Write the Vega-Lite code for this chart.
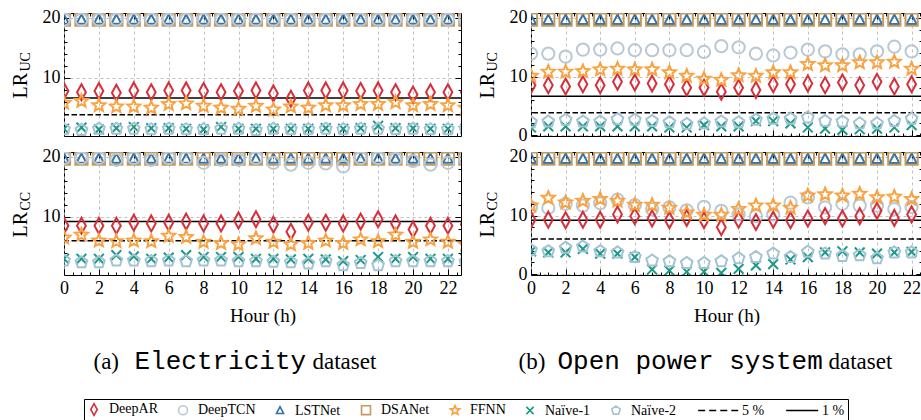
{
"$schema": "https://vega.github.io/schema/vega-lite/v6.json",
"padding": {"left": 9, "top": 8, "right": 1, "bottom": 2},
"config": {
 "font": "Liberation Serif",
 "view": {"stroke": "black", "strokeWidth": 1},
 "point": {"opacity": 1},
 "axis": {"labelFont": "Liberation Serif", "titleFont": "Liberation Serif", "labelColor": "black", "titleColor": "black", "titleFontWeight": "normal", "tickColor": "black", "tickWidth": 1},
 "legend": {"orient": "bottom", "direction": "horizontal", "columns": 9, "labelFont": "Liberation Serif", "labelFontSize": 14, "labelColor": "black", "symbolSize": 80, "symbolStrokeWidth": 1.6, "symbolOpacity": 1, "strokeColor": "black", "padding": 3, "columnPadding": 17, "labelOffset": 8, "offset": 25, "layout": {"bottom": {"anchor": "middle"}}}
},
"datasets": {
 "euc_t": [{"lvl": "5 %", "v": 3.84}, {"lvl": "1 %", "v": 6.63}],
 "ecc_t": [{"lvl": "5 %", "v": 5.99}, {"lvl": "1 %", "v": 9.21}],
 "ouc_t": [{"lvl": "5 %", "v": 3.84}, {"lvl": "1 %", "v": 6.63}],
 "occ_t": [{"lvl": "5 %", "v": 5.99}, {"lvl": "1 %", "v": 9.21}],
 "euc": [
  {"s":"DeepAR","h":0,"v":7.8},{"s":"DeepAR","h":1,"v":7.6},{"s":"DeepAR","h":2,"v":7.8},{"s":"DeepAR","h":3,"v":7.5},{"s":"DeepAR","h":4,"v":7.9},{"s":"DeepAR","h":5,"v":7.6},{"s":"DeepAR","h":6,"v":7.9},{"s":"DeepAR","h":7,"v":7.9},{"s":"DeepAR","h":8,"v":7.8},{"s":"DeepAR","h":9,"v":7.6},{"s":"DeepAR","h":10,"v":7.8},{"s":"DeepAR","h":11,"v":7.9},{"s":"DeepAR","h":12,"v":7.4},{"s":"DeepAR","h":13,"v":6.5},{"s":"DeepAR","h":14,"v":7.9},{"s":"DeepAR","h":15,"v":7.9},{"s":"DeepAR","h":16,"v":7.9},{"s":"DeepAR","h":17,"v":7.8},{"s":"DeepAR","h":18,"v":7.9},{"s":"DeepAR","h":19,"v":7.6},{"s":"DeepAR","h":20,"v":7.2},{"s":"DeepAR","h":21,"v":7.6},{"s":"DeepAR","h":22,"v":7.6},{"s":"DeepAR","h":23,"v":7.6},
  {"s":"DeepTCN","h":0,"v":19.7},{"s":"DeepTCN","h":1,"v":19.7},{"s":"DeepTCN","h":2,"v":19.7},{"s":"DeepTCN","h":3,"v":19.7},{"s":"DeepTCN","h":4,"v":19.7},{"s":"DeepTCN","h":5,"v":19.7},{"s":"DeepTCN","h":6,"v":19.7},{"s":"DeepTCN","h":7,"v":19.7},{"s":"DeepTCN","h":8,"v":19.7},{"s":"DeepTCN","h":9,"v":19.7},{"s":"DeepTCN","h":10,"v":19.7},{"s":"DeepTCN","h":11,"v":19.7},{"s":"DeepTCN","h":12,"v":19.7},{"s":"DeepTCN","h":13,"v":19.7},{"s":"DeepTCN","h":14,"v":19.7},{"s":"DeepTCN","h":15,"v":19.7},{"s":"DeepTCN","h":16,"v":19.7},{"s":"DeepTCN","h":17,"v":19.7},{"s":"DeepTCN","h":18,"v":19.7},{"s":"DeepTCN","h":19,"v":19.7},{"s":"DeepTCN","h":20,"v":19.7},{"s":"DeepTCN","h":21,"v":19.7},{"s":"DeepTCN","h":22,"v":19.7},{"s":"DeepTCN","h":23,"v":19.7},
  {"s":"LSTNet","h":0,"v":19.7},{"s":"LSTNet","h":1,"v":19.7},{"s":"LSTNet","h":2,"v":19.7},{"s":"LSTNet","h":3,"v":19.7},{"s":"LSTNet","h":4,"v":19.7},{"s":"LSTNet","h":5,"v":19.7},{"s":"LSTNet","h":6,"v":19.7},{"s":"LSTNet","h":7,"v":19.7},{"s":"LSTNet","h":8,"v":19.7},{"s":"LSTNet","h":9,"v":19.7},{"s":"LSTNet","h":10,"v":19.7},{"s":"LSTNet","h":11,"v":19.7},{"s":"LSTNet","h":12,"v":19.7},{"s":"LSTNet","h":13,"v":19.7},{"s":"LSTNet","h":14,"v":19.7},{"s":"LSTNet","h":15,"v":19.7},{"s":"LSTNet","h":16,"v":19.7},{"s":"LSTNet","h":17,"v":19.7},{"s":"LSTNet","h":18,"v":19.7},{"s":"LSTNet","h":19,"v":19.7},{"s":"LSTNet","h":20,"v":19.7},{"s":"LSTNet","h":21,"v":19.7},{"s":"LSTNet","h":22,"v":19.7},{"s":"LSTNet","h":23,"v":19.7},
  {"s":"DSANet","h":0,"v":19.7},{"s":"DSANet","h":1,"v":19.7},{"s":"DSANet","h":2,"v":19.7},{"s":"DSANet","h":3,"v":19.7},{"s":"DSANet","h":4,"v":19.7},{"s":"DSANet","h":5,"v":19.7},{"s":"DSANet","h":6,"v":19.7},{"s":"DSANet","h":7,"v":19.7},{"s":"DSANet","h":8,"v":19.7},{"s":"DSANet","h":9,"v":19.7},{"s":"DSANet","h":10,"v":19.7},{"s":"DSANet","h":11,"v":19.7},{"s":"DSANet","h":12,"v":19.7},{"s":"DSANet","h":13,"v":19.7},{"s":"DSANet","h":14,"v":19.7},{"s":"DSANet","h":15,"v":19.7},{"s":"DSANet","h":16,"v":19.7},{"s":"DSANet","h":17,"v":19.7},{"s":"DSANet","h":18,"v":19.7},{"s":"DSANet","h":19,"v":19.7},{"s":"DSANet","h":20,"v":19.7},{"s":"DSANet","h":21,"v":19.7},{"s":"DSANet","h":22,"v":19.7},{"s":"DSANet","h":23,"v":19.7},
  {"s":"FFNN","h":0,"v":5.8},{"s":"FFNN","h":1,"v":6.1},{"s":"FFNN","h":2,"v":5.4},{"s":"FFNN","h":3,"v":5.2},{"s":"FFNN","h":4,"v":5.2},{"s":"FFNN","h":5,"v":5.0},{"s":"FFNN","h":6,"v":5.6},{"s":"FFNN","h":7,"v":5.7},{"s":"FFNN","h":8,"v":5.3},{"s":"FFNN","h":9,"v":5.0},{"s":"FFNN","h":10,"v":4.8},{"s":"FFNN","h":11,"v":5.3},{"s":"FFNN","h":12,"v":4.7},{"s":"FFNN","h":13,"v":5.2},{"s":"FFNN","h":14,"v":5.0},{"s":"FFNN","h":15,"v":5.4},{"s":"FFNN","h":16,"v":5.4},{"s":"FFNN","h":17,"v":5.6},{"s":"FFNN","h":18,"v":5.6},{"s":"FFNN","h":19,"v":5.9},{"s":"FFNN","h":20,"v":5.4},{"s":"FFNN","h":21,"v":5.6},{"s":"FFNN","h":22,"v":5.4},{"s":"FFNN","h":23,"v":5.0},
  {"s":"Naïve-1","h":0,"v":1.5},{"s":"Naïve-1","h":1,"v":1.7},{"s":"Naïve-1","h":2,"v":1.4},{"s":"Naïve-1","h":3,"v":1.6},{"s":"Naïve-1","h":4,"v":1.8},{"s":"Naïve-1","h":5,"v":1.6},{"s":"Naïve-1","h":6,"v":1.6},{"s":"Naïve-1","h":7,"v":1.5},{"s":"Naïve-1","h":8,"v":1.4},{"s":"Naïve-1","h":9,"v":1.8},{"s":"Naïve-1","h":10,"v":1.5},{"s":"Naïve-1","h":11,"v":1.5},{"s":"Naïve-1","h":12,"v":1.5},{"s":"Naïve-1","h":13,"v":1.5},{"s":"Naïve-1","h":14,"v":1.5},{"s":"Naïve-1","h":15,"v":1.6},{"s":"Naïve-1","h":16,"v":1.5},{"s":"Naïve-1","h":17,"v":1.6},{"s":"Naïve-1","h":18,"v":2.0},{"s":"Naïve-1","h":19,"v":1.6},{"s":"Naïve-1","h":20,"v":1.6},{"s":"Naïve-1","h":21,"v":1.5},{"s":"Naïve-1","h":22,"v":1.5},{"s":"Naïve-1","h":23,"v":1.5},
  {"s":"Naïve-2","h":0,"v":1.4},{"s":"Naïve-2","h":1,"v":1.3},{"s":"Naïve-2","h":2,"v":1.5},{"s":"Naïve-2","h":3,"v":1.5},{"s":"Naïve-2","h":4,"v":1.5},{"s":"Naïve-2","h":5,"v":1.4},{"s":"Naïve-2","h":6,"v":1.5},{"s":"Naïve-2","h":7,"v":1.4},{"s":"Naïve-2","h":8,"v":1.4},{"s":"Naïve-2","h":9,"v":1.5},{"s":"Naïve-2","h":10,"v":1.5},{"s":"Naïve-2","h":11,"v":1.3},{"s":"Naïve-2","h":12,"v":1.5},{"s":"Naïve-2","h":13,"v":1.4},{"s":"Naïve-2","h":14,"v":1.4},{"s":"Naïve-2","h":15,"v":1.5},{"s":"Naïve-2","h":16,"v":1.4},{"s":"Naïve-2","h":17,"v":1.5},{"s":"Naïve-2","h":18,"v":1.5},{"s":"Naïve-2","h":19,"v":1.4},{"s":"Naïve-2","h":20,"v":1.5},{"s":"Naïve-2","h":21,"v":1.4},{"s":"Naïve-2","h":22,"v":1.4},{"s":"Naïve-2","h":23,"v":1.5}
 ],
 "ecc": [
  {"s":"DeepAR","h":0,"v":8.5},{"s":"DeepAR","h":1,"v":8.5},{"s":"DeepAR","h":2,"v":8.5},{"s":"DeepAR","h":3,"v":8.5},{"s":"DeepAR","h":4,"v":9.0},{"s":"DeepAR","h":5,"v":8.9},{"s":"DeepAR","h":6,"v":9.0},{"s":"DeepAR","h":7,"v":9.2},{"s":"DeepAR","h":8,"v":8.9},{"s":"DeepAR","h":9,"v":8.9},{"s":"DeepAR","h":10,"v":9.4},{"s":"DeepAR","h":11,"v":9.6},{"s":"DeepAR","h":12,"v":8.7},{"s":"DeepAR","h":13,"v":7.5},{"s":"DeepAR","h":14,"v":9.0},{"s":"DeepAR","h":15,"v":9.0},{"s":"DeepAR","h":16,"v":8.9},{"s":"DeepAR","h":17,"v":9.2},{"s":"DeepAR","h":18,"v":9.6},{"s":"DeepAR","h":19,"v":8.9},{"s":"DeepAR","h":20,"v":7.9},{"s":"DeepAR","h":21,"v":8.5},{"s":"DeepAR","h":22,"v":8.5},{"s":"DeepAR","h":23,"v":8.7},
  {"s":"DeepTCN","h":0,"v":19.8},{"s":"DeepTCN","h":1,"v":19.8},{"s":"DeepTCN","h":2,"v":19.8},{"s":"DeepTCN","h":3,"v":19.5},{"s":"DeepTCN","h":4,"v":19.8},{"s":"DeepTCN","h":5,"v":19.5},{"s":"DeepTCN","h":6,"v":19.8},{"s":"DeepTCN","h":7,"v":19.8},{"s":"DeepTCN","h":8,"v":19.0},{"s":"DeepTCN","h":9,"v":19.5},{"s":"DeepTCN","h":10,"v":19.5},{"s":"DeepTCN","h":11,"v":19.8},{"s":"DeepTCN","h":12,"v":19.0},{"s":"DeepTCN","h":13,"v":18.7},{"s":"DeepTCN","h":14,"v":19.0},{"s":"DeepTCN","h":15,"v":18.9},{"s":"DeepTCN","h":16,"v":18.4},{"s":"DeepTCN","h":17,"v":19.8},{"s":"DeepTCN","h":18,"v":19.8},{"s":"DeepTCN","h":19,"v":19.6},{"s":"DeepTCN","h":20,"v":19.3},{"s":"DeepTCN","h":21,"v":18.7},{"s":"DeepTCN","h":22,"v":19.0},{"s":"DeepTCN","h":23,"v":19.6},
  {"s":"LSTNet","h":0,"v":19.7},{"s":"LSTNet","h":1,"v":19.7},{"s":"LSTNet","h":2,"v":19.7},{"s":"LSTNet","h":3,"v":19.7},{"s":"LSTNet","h":4,"v":19.7},{"s":"LSTNet","h":5,"v":19.7},{"s":"LSTNet","h":6,"v":19.7},{"s":"LSTNet","h":7,"v":19.7},{"s":"LSTNet","h":8,"v":19.7},{"s":"LSTNet","h":9,"v":19.7},{"s":"LSTNet","h":10,"v":19.7},{"s":"LSTNet","h":11,"v":19.7},{"s":"LSTNet","h":12,"v":19.7},{"s":"LSTNet","h":13,"v":19.7},{"s":"LSTNet","h":14,"v":19.7},{"s":"LSTNet","h":15,"v":19.7},{"s":"LSTNet","h":16,"v":19.7},{"s":"LSTNet","h":17,"v":19.7},{"s":"LSTNet","h":18,"v":19.7},{"s":"LSTNet","h":19,"v":19.7},{"s":"LSTNet","h":20,"v":19.7},{"s":"LSTNet","h":21,"v":19.7},{"s":"LSTNet","h":22,"v":19.7},{"s":"LSTNet","h":23,"v":19.7},
  {"s":"DSANet","h":0,"v":19.7},{"s":"DSANet","h":1,"v":19.7},{"s":"DSANet","h":2,"v":19.7},{"s":"DSANet","h":3,"v":19.7},{"s":"DSANet","h":4,"v":19.7},{"s":"DSANet","h":5,"v":19.7},{"s":"DSANet","h":6,"v":19.7},{"s":"DSANet","h":7,"v":19.7},{"s":"DSANet","h":8,"v":19.7},{"s":"DSANet","h":9,"v":19.7},{"s":"DSANet","h":10,"v":19.7},{"s":"DSANet","h":11,"v":19.7},{"s":"DSANet","h":12,"v":19.7},{"s":"DSANet","h":13,"v":19.7},{"s":"DSANet","h":14,"v":19.7},{"s":"DSANet","h":15,"v":19.7},{"s":"DSANet","h":16,"v":19.7},{"s":"DSANet","h":17,"v":19.7},{"s":"DSANet","h":18,"v":19.7},{"s":"DSANet","h":19,"v":19.7},{"s":"DSANet","h":20,"v":19.7},{"s":"DSANet","h":21,"v":19.7},{"s":"DSANet","h":22,"v":19.7},{"s":"DSANet","h":23,"v":19.7},
  {"s":"FFNN","h":0,"v":6.5},{"s":"FFNN","h":1,"v":7.0},{"s":"FFNN","h":2,"v":6.0},{"s":"FFNN","h":3,"v":5.9},{"s":"FFNN","h":4,"v":6.0},{"s":"FFNN","h":5,"v":5.9},{"s":"FFNN","h":6,"v":6.8},{"s":"FFNN","h":7,"v":6.6},{"s":"FFNN","h":8,"v":5.8},{"s":"FFNN","h":9,"v":5.6},{"s":"FFNN","h":10,"v":5.4},{"s":"FFNN","h":11,"v":6.4},{"s":"FFNN","h":12,"v":5.8},{"s":"FFNN","h":13,"v":5.4},{"s":"FFNN","h":14,"v":5.6},{"s":"FFNN","h":15,"v":6.0},{"s":"FFNN","h":16,"v":5.6},{"s":"FFNN","h":17,"v":6.2},{"s":"FFNN","h":18,"v":5.9},{"s":"FFNN","h":19,"v":7.0},{"s":"FFNN","h":20,"v":5.8},{"s":"FFNN","h":21,"v":6.2},{"s":"FFNN","h":22,"v":5.8},{"s":"FFNN","h":23,"v":5.4},
  {"s":"Naïve-1","h":0,"v":3.0},{"s":"Naïve-1","h":1,"v":3.0},{"s":"Naïve-1","h":2,"v":3.0},{"s":"Naïve-1","h":3,"v":3.6},{"s":"Naïve-1","h":4,"v":3.4},{"s":"Naïve-1","h":5,"v":3.0},{"s":"Naïve-1","h":6,"v":3.2},{"s":"Naïve-1","h":7,"v":3.6},{"s":"Naïve-1","h":8,"v":3.3},{"s":"Naïve-1","h":9,"v":3.3},{"s":"Naïve-1","h":10,"v":3.3},{"s":"Naïve-1","h":11,"v":3.0},{"s":"Naïve-1","h":12,"v":3.0},{"s":"Naïve-1","h":13,"v":2.9},{"s":"Naïve-1","h":14,"v":3.0},{"s":"Naïve-1","h":15,"v":2.9},{"s":"Naïve-1","h":16,"v":2.6},{"s":"Naïve-1","h":17,"v":2.8},{"s":"Naïve-1","h":18,"v":3.3},{"s":"Naïve-1","h":19,"v":3.0},{"s":"Naïve-1","h":20,"v":3.3},{"s":"Naïve-1","h":21,"v":3.0},{"s":"Naïve-1","h":22,"v":3.0},{"s":"Naïve-1","h":23,"v":3.0},
  {"s":"Naïve-2","h":0,"v":2.7},{"s":"Naïve-2","h":1,"v":2.4},{"s":"Naïve-2","h":2,"v":2.4},{"s":"Naïve-2","h":3,"v":2.7},{"s":"Naïve-2","h":4,"v":2.7},{"s":"Naïve-2","h":5,"v":2.6},{"s":"Naïve-2","h":6,"v":2.7},{"s":"Naïve-2","h":7,"v":2.6},{"s":"Naïve-2","h":8,"v":2.7},{"s":"Naïve-2","h":9,"v":2.7},{"s":"Naïve-2","h":10,"v":2.6},{"s":"Naïve-2","h":11,"v":2.6},{"s":"Naïve-2","h":12,"v":2.5},{"s":"Naïve-2","h":13,"v":2.4},{"s":"Naïve-2","h":14,"v":2.2},{"s":"Naïve-2","h":15,"v":2.6},{"s":"Naïve-2","h":16,"v":1.9},{"s":"Naïve-2","h":17,"v":2.3},{"s":"Naïve-2","h":18,"v":1.9},{"s":"Naïve-2","h":19,"v":2.6},{"s":"Naïve-2","h":20,"v":2.6},{"s":"Naïve-2","h":21,"v":2.6},{"s":"Naïve-2","h":22,"v":2.6},{"s":"Naïve-2","h":23,"v":2.5}
 ],
 "ouc": [
  {"s":"DeepAR","h":0,"v":8.5},{"s":"DeepAR","h":1,"v":8.5},{"s":"DeepAR","h":2,"v":8.3},{"s":"DeepAR","h":3,"v":8.7},{"s":"DeepAR","h":4,"v":8.5},{"s":"DeepAR","h":5,"v":9.1},{"s":"DeepAR","h":6,"v":9.0},{"s":"DeepAR","h":7,"v":8.8},{"s":"DeepAR","h":8,"v":8.7},{"s":"DeepAR","h":9,"v":8.1},{"s":"DeepAR","h":10,"v":8.1},{"s":"DeepAR","h":11,"v":7.4},{"s":"DeepAR","h":12,"v":8.1},{"s":"DeepAR","h":13,"v":7.7},{"s":"DeepAR","h":14,"v":8.7},{"s":"DeepAR","h":15,"v":8.7},{"s":"DeepAR","h":16,"v":8.8},{"s":"DeepAR","h":17,"v":8.5},{"s":"DeepAR","h":18,"v":9.0},{"s":"DeepAR","h":19,"v":8.5},{"s":"DeepAR","h":20,"v":9.1},{"s":"DeepAR","h":21,"v":8.3},{"s":"DeepAR","h":22,"v":8.7},{"s":"DeepAR","h":23,"v":9.2},
  {"s":"DeepTCN","h":0,"v":13.9},{"s":"DeepTCN","h":1,"v":13.9},{"s":"DeepTCN","h":2,"v":13.4},{"s":"DeepTCN","h":3,"v":14.6},{"s":"DeepTCN","h":4,"v":14.6},{"s":"DeepTCN","h":5,"v":14.8},{"s":"DeepTCN","h":6,"v":14.5},{"s":"DeepTCN","h":7,"v":14.5},{"s":"DeepTCN","h":8,"v":14.5},{"s":"DeepTCN","h":9,"v":14.5},{"s":"DeepTCN","h":10,"v":14.2},{"s":"DeepTCN","h":11,"v":15.2},{"s":"DeepTCN","h":12,"v":15.0},{"s":"DeepTCN","h":13,"v":13.9},{"s":"DeepTCN","h":14,"v":13.6},{"s":"DeepTCN","h":15,"v":14.1},{"s":"DeepTCN","h":16,"v":14.6},{"s":"DeepTCN","h":17,"v":14.3},{"s":"DeepTCN","h":18,"v":13.8},{"s":"DeepTCN","h":19,"v":13.8},{"s":"DeepTCN","h":20,"v":14.3},{"s":"DeepTCN","h":21,"v":15.1},{"s":"DeepTCN","h":22,"v":14.3},{"s":"DeepTCN","h":23,"v":13.9},
  {"s":"LSTNet","h":0,"v":19.7},{"s":"LSTNet","h":1,"v":19.7},{"s":"LSTNet","h":2,"v":19.7},{"s":"LSTNet","h":3,"v":19.7},{"s":"LSTNet","h":4,"v":19.7},{"s":"LSTNet","h":5,"v":19.7},{"s":"LSTNet","h":6,"v":19.7},{"s":"LSTNet","h":7,"v":19.7},{"s":"LSTNet","h":8,"v":19.7},{"s":"LSTNet","h":9,"v":19.7},{"s":"LSTNet","h":10,"v":19.7},{"s":"LSTNet","h":11,"v":19.7},{"s":"LSTNet","h":12,"v":19.7},{"s":"LSTNet","h":13,"v":19.7},{"s":"LSTNet","h":14,"v":19.7},{"s":"LSTNet","h":15,"v":19.7},{"s":"LSTNet","h":16,"v":19.7},{"s":"LSTNet","h":17,"v":19.7},{"s":"LSTNet","h":18,"v":19.7},{"s":"LSTNet","h":19,"v":19.7},{"s":"LSTNet","h":20,"v":19.7},{"s":"LSTNet","h":21,"v":19.7},{"s":"LSTNet","h":22,"v":19.7},{"s":"LSTNet","h":23,"v":19.7},
  {"s":"DSANet","h":0,"v":19.7},{"s":"DSANet","h":1,"v":19.7},{"s":"DSANet","h":2,"v":19.7},{"s":"DSANet","h":3,"v":19.7},{"s":"DSANet","h":4,"v":19.7},{"s":"DSANet","h":5,"v":19.7},{"s":"DSANet","h":6,"v":19.7},{"s":"DSANet","h":7,"v":19.7},{"s":"DSANet","h":8,"v":19.7},{"s":"DSANet","h":9,"v":19.7},{"s":"DSANet","h":10,"v":19.7},{"s":"DSANet","h":11,"v":19.7},{"s":"DSANet","h":12,"v":19.7},{"s":"DSANet","h":13,"v":19.7},{"s":"DSANet","h":14,"v":19.7},{"s":"DSANet","h":15,"v":19.7},{"s":"DSANet","h":16,"v":19.7},{"s":"DSANet","h":17,"v":19.7},{"s":"DSANet","h":18,"v":19.7},{"s":"DSANet","h":19,"v":19.7},{"s":"DSANet","h":20,"v":19.7},{"s":"DSANet","h":21,"v":19.7},{"s":"DSANet","h":22,"v":19.7},{"s":"DSANet","h":23,"v":19.7},
  {"s":"FFNN","h":0,"v":10.1},{"s":"FFNN","h":1,"v":10.8},{"s":"FFNN","h":2,"v":10.8},{"s":"FFNN","h":3,"v":10.9},{"s":"FFNN","h":4,"v":11.2},{"s":"FFNN","h":5,"v":11.3},{"s":"FFNN","h":6,"v":11.2},{"s":"FFNN","h":7,"v":11.2},{"s":"FFNN","h":8,"v":10.7},{"s":"FFNN","h":9,"v":10.1},{"s":"FFNN","h":10,"v":9.6},{"s":"FFNN","h":11,"v":9.4},{"s":"FFNN","h":12,"v":10.2},{"s":"FFNN","h":13,"v":10.1},{"s":"FFNN","h":14,"v":10.7},{"s":"FFNN","h":15,"v":10.7},{"s":"FFNN","h":16,"v":12.1},{"s":"FFNN","h":17,"v":11.9},{"s":"FFNN","h":18,"v":11.9},{"s":"FFNN","h":19,"v":12.4},{"s":"FFNN","h":20,"v":12.4},{"s":"FFNN","h":21,"v":12.5},{"s":"FFNN","h":22,"v":11.3},{"s":"FFNN","h":23,"v":11.9},
  {"s":"Naïve-1","h":0,"v":1.3},{"s":"Naïve-1","h":1,"v":1.5},{"s":"Naïve-1","h":2,"v":1.5},{"s":"Naïve-1","h":3,"v":1.5},{"s":"Naïve-1","h":4,"v":1.5},{"s":"Naïve-1","h":5,"v":1.5},{"s":"Naïve-1","h":6,"v":1.5},{"s":"Naïve-1","h":7,"v":1.5},{"s":"Naïve-1","h":8,"v":1.3},{"s":"Naïve-1","h":9,"v":1.3},{"s":"Naïve-1","h":10,"v":1.7},{"s":"Naïve-1","h":11,"v":1.5},{"s":"Naïve-1","h":12,"v":1.5},{"s":"Naïve-1","h":13,"v":2.4},{"s":"Naïve-1","h":14,"v":2.4},{"s":"Naïve-1","h":15,"v":2.0},{"s":"Naïve-1","h":16,"v":1.3},{"s":"Naïve-1","h":17,"v":1.1},{"s":"Naïve-1","h":18,"v":0.9},{"s":"Naïve-1","h":19,"v":1.0},{"s":"Naïve-1","h":20,"v":1.1},{"s":"Naïve-1","h":21,"v":1.3},{"s":"Naïve-1","h":22,"v":1.7},{"s":"Naïve-1","h":23,"v":1.1},
  {"s":"Naïve-2","h":0,"v":2.2},{"s":"Naïve-2","h":1,"v":2.3},{"s":"Naïve-2","h":2,"v":2.6},{"s":"Naïve-2","h":3,"v":2.3},{"s":"Naïve-2","h":4,"v":2.3},{"s":"Naïve-2","h":5,"v":2.7},{"s":"Naïve-2","h":6,"v":2.6},{"s":"Naïve-2","h":7,"v":2.4},{"s":"Naïve-2","h":8,"v":2.2},{"s":"Naïve-2","h":9,"v":1.9},{"s":"Naïve-2","h":10,"v":2.0},{"s":"Naïve-2","h":11,"v":2.3},{"s":"Naïve-2","h":12,"v":2.2},{"s":"Naïve-2","h":13,"v":2.6},{"s":"Naïve-2","h":14,"v":2.8},{"s":"Naïve-2","h":15,"v":2.8},{"s":"Naïve-2","h":16,"v":3.0},{"s":"Naïve-2","h":17,"v":2.4},{"s":"Naïve-2","h":18,"v":2.3},{"s":"Naïve-2","h":19,"v":2.0},{"s":"Naïve-2","h":20,"v":2.0},{"s":"Naïve-2","h":21,"v":2.4},{"s":"Naïve-2","h":22,"v":2.8},{"s":"Naïve-2","h":23,"v":2.4}
 ],
 "occ": [
  {"s":"DeepAR","h":0,"v":9.3},{"s":"DeepAR","h":1,"v":9.3},{"s":"DeepAR","h":2,"v":9.2},{"s":"DeepAR","h":3,"v":9.3},{"s":"DeepAR","h":4,"v":9.3},{"s":"DeepAR","h":5,"v":10.2},{"s":"DeepAR","h":6,"v":9.9},{"s":"DeepAR","h":7,"v":9.5},{"s":"DeepAR","h":8,"v":9.2},{"s":"DeepAR","h":9,"v":9.6},{"s":"DeepAR","h":10,"v":9.2},{"s":"DeepAR","h":11,"v":8.0},{"s":"DeepAR","h":12,"v":9.3},{"s":"DeepAR","h":13,"v":8.9},{"s":"DeepAR","h":14,"v":9.3},{"s":"DeepAR","h":15,"v":9.2},{"s":"DeepAR","h":16,"v":9.5},{"s":"DeepAR","h":17,"v":9.9},{"s":"DeepAR","h":18,"v":9.5},{"s":"DeepAR","h":19,"v":9.9},{"s":"DeepAR","h":20,"v":10.8},{"s":"DeepAR","h":21,"v":9.6},{"s":"DeepAR","h":22,"v":10.2},{"s":"DeepAR","h":23,"v":10.2},
  {"s":"DeepTCN","h":0,"v":11.4},{"s":"DeepTCN","h":1,"v":11.3},{"s":"DeepTCN","h":2,"v":12.0},{"s":"DeepTCN","h":3,"v":11.7},{"s":"DeepTCN","h":4,"v":12.1},{"s":"DeepTCN","h":5,"v":12.7},{"s":"DeepTCN","h":6,"v":11.8},{"s":"DeepTCN","h":7,"v":11.1},{"s":"DeepTCN","h":8,"v":11.4},{"s":"DeepTCN","h":9,"v":10.9},{"s":"DeepTCN","h":10,"v":11.5},{"s":"DeepTCN","h":11,"v":10.8},{"s":"DeepTCN","h":12,"v":10.2},{"s":"DeepTCN","h":13,"v":9.9},{"s":"DeepTCN","h":14,"v":10.2},{"s":"DeepTCN","h":15,"v":12.2},{"s":"DeepTCN","h":16,"v":13.1},{"s":"DeepTCN","h":17,"v":11.4},{"s":"DeepTCN","h":18,"v":12.0},{"s":"DeepTCN","h":19,"v":11.7},{"s":"DeepTCN","h":20,"v":11.7},{"s":"DeepTCN","h":21,"v":11.1},{"s":"DeepTCN","h":22,"v":11.5},{"s":"DeepTCN","h":23,"v":11.6},
  {"s":"LSTNet","h":0,"v":19.7},{"s":"LSTNet","h":1,"v":19.7},{"s":"LSTNet","h":2,"v":19.7},{"s":"LSTNet","h":3,"v":19.7},{"s":"LSTNet","h":4,"v":19.7},{"s":"LSTNet","h":5,"v":19.7},{"s":"LSTNet","h":6,"v":19.7},{"s":"LSTNet","h":7,"v":19.7},{"s":"LSTNet","h":8,"v":19.7},{"s":"LSTNet","h":9,"v":19.7},{"s":"LSTNet","h":10,"v":19.7},{"s":"LSTNet","h":11,"v":19.7},{"s":"LSTNet","h":12,"v":19.7},{"s":"LSTNet","h":13,"v":19.7},{"s":"LSTNet","h":14,"v":19.7},{"s":"LSTNet","h":15,"v":19.7},{"s":"LSTNet","h":16,"v":19.7},{"s":"LSTNet","h":17,"v":19.7},{"s":"LSTNet","h":18,"v":19.7},{"s":"LSTNet","h":19,"v":19.7},{"s":"LSTNet","h":20,"v":19.7},{"s":"LSTNet","h":21,"v":19.7},{"s":"LSTNet","h":22,"v":19.7},{"s":"LSTNet","h":23,"v":19.7},
  {"s":"DSANet","h":0,"v":19.7},{"s":"DSANet","h":1,"v":19.7},{"s":"DSANet","h":2,"v":19.7},{"s":"DSANet","h":3,"v":19.7},{"s":"DSANet","h":4,"v":19.7},{"s":"DSANet","h":5,"v":19.7},{"s":"DSANet","h":6,"v":19.7},{"s":"DSANet","h":7,"v":19.7},{"s":"DSANet","h":8,"v":19.7},{"s":"DSANet","h":9,"v":19.7},{"s":"DSANet","h":10,"v":19.7},{"s":"DSANet","h":11,"v":19.7},{"s":"DSANet","h":12,"v":19.7},{"s":"DSANet","h":13,"v":19.7},{"s":"DSANet","h":14,"v":19.7},{"s":"DSANet","h":15,"v":19.7},{"s":"DSANet","h":16,"v":19.7},{"s":"DSANet","h":17,"v":19.7},{"s":"DSANet","h":18,"v":19.7},{"s":"DSANet","h":19,"v":19.7},{"s":"DSANet","h":20,"v":19.7},{"s":"DSANet","h":21,"v":19.7},{"s":"DSANet","h":22,"v":19.7},{"s":"DSANet","h":23,"v":19.7},
  {"s":"FFNN","h":0,"v":11.7},{"s":"FFNN","h":1,"v":13.0},{"s":"FFNN","h":2,"v":12.2},{"s":"FFNN","h":3,"v":12.5},{"s":"FFNN","h":4,"v":12.8},{"s":"FFNN","h":5,"v":12.5},{"s":"FFNN","h":6,"v":11.8},{"s":"FFNN","h":7,"v":11.8},{"s":"FFNN","h":8,"v":11.3},{"s":"FFNN","h":9,"v":10.5},{"s":"FFNN","h":10,"v":10.1},{"s":"FFNN","h":11,"v":10.1},{"s":"FFNN","h":12,"v":11.1},{"s":"FFNN","h":13,"v":11.7},{"s":"FFNN","h":14,"v":11.7},{"s":"FFNN","h":15,"v":11.3},{"s":"FFNN","h":16,"v":13.4},{"s":"FFNN","h":17,"v":13.6},{"s":"FFNN","h":18,"v":13.4},{"s":"FFNN","h":19,"v":13.7},{"s":"FFNN","h":20,"v":13.1},{"s":"FFNN","h":21,"v":13.2},{"s":"FFNN","h":22,"v":12.8},{"s":"FFNN","h":23,"v":12.5},
  {"s":"Naïve-1","h":0,"v":3.9},{"s":"Naïve-1","h":1,"v":3.7},{"s":"Naïve-1","h":2,"v":3.7},{"s":"Naïve-1","h":3,"v":4.3},{"s":"Naïve-1","h":4,"v":3.5},{"s":"Naïve-1","h":5,"v":3.5},{"s":"Naïve-1","h":6,"v":2.9},{"s":"Naïve-1","h":7,"v":0.8},{"s":"Naïve-1","h":8,"v":0.6},{"s":"Naïve-1","h":9,"v":0.4},{"s":"Naïve-1","h":10,"v":0.4},{"s":"Naïve-1","h":11,"v":0.2},{"s":"Naïve-1","h":12,"v":0.9},{"s":"Naïve-1","h":13,"v":1.5},{"s":"Naïve-1","h":14,"v":1.7},{"s":"Naïve-1","h":15,"v":2.5},{"s":"Naïve-1","h":16,"v":2.9},{"s":"Naïve-1","h":17,"v":3.7},{"s":"Naïve-1","h":18,"v":3.9},{"s":"Naïve-1","h":19,"v":3.7},{"s":"Naïve-1","h":20,"v":3.5},{"s":"Naïve-1","h":21,"v":3.7},{"s":"Naïve-1","h":22,"v":3.8},{"s":"Naïve-1","h":23,"v":3.8},
  {"s":"Naïve-2","h":0,"v":4.1},{"s":"Naïve-2","h":1,"v":3.9},{"s":"Naïve-2","h":2,"v":4.5},{"s":"Naïve-2","h":3,"v":4.7},{"s":"Naïve-2","h":4,"v":3.9},{"s":"Naïve-2","h":5,"v":3.7},{"s":"Naïve-2","h":6,"v":2.9},{"s":"Naïve-2","h":7,"v":2.3},{"s":"Naïve-2","h":8,"v":2.2},{"s":"Naïve-2","h":9,"v":1.9},{"s":"Naïve-2","h":10,"v":1.9},{"s":"Naïve-2","h":11,"v":2.2},{"s":"Naïve-2","h":12,"v":2.7},{"s":"Naïve-2","h":13,"v":2.9},{"s":"Naïve-2","h":14,"v":3.5},{"s":"Naïve-2","h":15,"v":2.9},{"s":"Naïve-2","h":16,"v":3.8},{"s":"Naïve-2","h":17,"v":3.5},{"s":"Naïve-2","h":18,"v":3.1},{"s":"Naïve-2","h":19,"v":3.2},{"s":"Naïve-2","h":20,"v":2.7},{"s":"Naïve-2","h":21,"v":3.7},{"s":"Naïve-2","h":22,"v":3.7},{"s":"Naïve-2","h":23,"v":3.7}
 ]
},
"hconcat": [
 {
  "spacing": 10,
  "vconcat": [
   {
    "width": 397, "height": 123,
    "layer": [
     {"data": {"name": "euc_t"}, "mark": {"type": "rule", "color": "black", "strokeWidth": 1.5},
      "encoding": {
       "y": {"field": "v", "type": "quantitative", "scale": {"domain": [0.3, 20.8], "nice": false, "zero": false}, "axis": {"orient": "left", "labels": false, "ticks": false, "domain": false, "grid": false, "title": "UC", "titleFontSize": 14, "titleAngle": 270, "titleAlign": "left", "titleBaseline": "alphabetic", "titleX": -35, "titleY": 58}},
       "strokeDash": {"field": "lvl", "type": "nominal", "scale": {"domain": ["5 %", "1 %"], "range": [[5.5, 2.5], [1, 0]]}, "legend": null}}},
     {"data": {"name": "euc"}, "transform": [{"filter": {"field": "s", "oneOf": ["DSANet", "LSTNet"]}}],
      "mark": {"type": "point", "filled": false, "size": 150, "strokeWidth": 2, "opacity": 1, "clip": true},
      "encoding": {
       "x": {"field": "h", "type": "quantitative", "scale": {"domain": [0, 22.75], "nice": false, "zero": false}, "axis": {"orient": "bottom", "values": [0,2,4,6,8,10,12,14,16,18,20,22], "labels": false, "title": null, "domain": false, "tickSize": -6, "grid": true, "gridColor": "#b0b0b0", "gridDash": [3, 3], "gridWidth": 0.8, "zindex": 0}},
       "y": {"field": "v", "type": "quantitative", "scale": {"domain": [0.3, 20.8], "nice": false, "zero": false}, "axis": {"orient": "left", "values": [0, 10, 20], "format": "d", "labelFontSize": 18, "labelPadding": 10, "labelFlush": false, "labelOverlap": false, "domain": false, "tickSize": -6, "grid": true, "gridColor": "#b0b0b0", "gridDash": [3, 3], "gridWidth": 0.8, "zindex": 0, "title": "LR", "titleFontSize": 20, "titleAngle": 270, "titleAlign": "left", "titleBaseline": "alphabetic", "titleX": -38, "titleY": 85}},
       "color": {"field": "s", "type": "nominal", "scale": {"domain": ["DeepAR", "DeepTCN", "LSTNet", "DSANet", "FFNN", "Naïve-1", "Naïve-2", "5 %", "1 %"], "range": ["#d62f3a", "#b9c8d5", "#3874a6", "#c59a5e", "#f9a23f", "#1a9a87", "#a2c3d4", "#000000", "#000000"]}, "legend": {"title": null}},
       "shape": {"field": "s", "type": "nominal", "scale": {"domain": ["DeepAR", "DeepTCN", "LSTNet", "DSANet", "FFNN", "Naïve-1", "Naïve-2", "5 %", "1 %"], "range": ["M0,-1.3L0.72,0L0,1.3L-0.72,0Z", "circle", "M0,-0.85L0.8,0.68L-0.8,0.68Z", "square", "M0,-1.1L0.29,-0.4L1.05,-0.34L0.48,0.15L0.65,0.89L0,0.5L-0.65,0.89L-0.48,0.15L-1.05,-0.34L-0.29,-0.4Z", "M-0.8,-0.8L0.8,0.8M-0.8,0.8L0.8,-0.8", "M0,-1L0.95,-0.31L0.59,0.81L-0.59,0.81L-0.95,-0.31Z", "M-6.45,0H-4.88M-3.98,0H-2.41M-1.51,0H0.06M0.96,0H2.5", "M-4.66,0H2.5"]}, "legend": {"title": null}}}},
     {"data": {"name": "euc"}, "transform": [{"filter": {"field": "s", "oneOf": ["DeepTCN"]}}],
      "mark": {"type": "point", "filled": false, "size": 150, "strokeWidth": 2, "opacity": 1, "clip": true},
      "encoding": {
       "x": {"field": "h", "type": "quantitative", "scale": {"domain": [0, 22.75], "nice": false, "zero": false}, "axis": {"orient": "bottom", "values": [0.5,1,1.5,2.5,3,3.5,4.5,5,5.5,6.5,7,7.5,8.5,9,9.5,10.5,11,11.5,12.5,13,13.5,14.5,15,15.5,16.5,17,17.5,18.5,19,19.5,20.5,21,21.5,22.5], "labels": false, "title": null, "domain": false, "grid": false, "tickSize": -3}},
       "y": {"field": "v", "type": "quantitative", "scale": {"domain": [0.3, 20.8], "nice": false, "zero": false}, "axis": {"orient": "left", "values": [2,4,6,8,12,14,16,18], "labels": false, "title": null, "domain": false, "grid": false, "tickSize": -3}},
       "color": {"field": "s", "type": "nominal", "legend": {"title": null}},
       "shape": {"field": "s", "type": "nominal", "legend": {"title": null}}}},
     {"data": {"name": "euc"}, "transform": [{"filter": {"field": "s", "oneOf": ["DeepAR", "FFNN"]}}],
      "mark": {"type": "point", "filled": false, "size": 150, "strokeWidth": 2, "opacity": 1, "clip": true},
      "encoding": {
       "x": {"field": "h", "type": "quantitative", "scale": {"domain": [0, 22.75], "nice": false, "zero": false}, "axis": {"orient": "top", "values": [0,2,4,6,8,10,12,14,16,18,20,22], "labels": false, "title": null, "domain": false, "grid": false, "tickSize": -6}},
       "y": {"field": "v", "type": "quantitative", "scale": {"domain": [0.3, 20.8], "nice": false, "zero": false}, "axis": {"orient": "right", "values": [0, 10, 20], "labels": false, "title": null, "domain": false, "grid": false, "tickSize": -6}},
       "color": {"field": "s", "type": "nominal", "legend": {"title": null}},
       "shape": {"field": "s", "type": "nominal", "legend": {"title": null}}}},
     {"data": {"name": "euc"}, "transform": [{"filter": {"field": "s", "oneOf": ["Naïve-1", "Naïve-2"]}}],
      "mark": {"type": "point", "filled": false, "size": 150, "strokeWidth": 2, "opacity": 1, "clip": true},
      "encoding": {
       "x": {"field": "h", "type": "quantitative", "scale": {"domain": [0, 22.75], "nice": false, "zero": false}, "axis": {"orient": "top", "values": [0.5,1,1.5,2.5,3,3.5,4.5,5,5.5,6.5,7,7.5,8.5,9,9.5,10.5,11,11.5,12.5,13,13.5,14.5,15,15.5,16.5,17,17.5,18.5,19,19.5,20.5,21,21.5,22.5], "labels": false, "title": null, "domain": false, "grid": false, "tickSize": -3}},
       "y": {"field": "v", "type": "quantitative", "scale": {"domain": [0.3, 20.8], "nice": false, "zero": false}, "axis": {"orient": "right", "values": [2,4,6,8,12,14,16,18], "labels": false, "title": null, "domain": false, "grid": false, "tickSize": -3}},
       "color": {"field": "s", "type": "nominal", "legend": {"title": null}},
       "shape": {"field": "s", "type": "nominal", "legend": {"title": null}}}}
    ],
    "resolve": {"axis": {"x": "independent", "y": "independent"}}
   },
   {
    "width": 397, "height": 123,
    "layer": [
     {"data": {"name": "ecc_t"}, "mark": {"type": "rule", "color": "black", "strokeWidth": 1.5},
      "encoding": {
       "y": {"field": "v", "type": "quantitative", "scale": {"domain": [0.3, 20.8], "nice": false, "zero": false}, "axis": {"orient": "left", "labels": false, "ticks": false, "domain": false, "grid": false, "title": "CC", "titleFontSize": 14, "titleAngle": 270, "titleAlign": "left", "titleBaseline": "alphabetic", "titleX": -35, "titleY": 58}},
       "strokeDash": {"field": "lvl", "type": "nominal", "scale": {"domain": ["5 %", "1 %"], "range": [[5.5, 2.5], [1, 0]]}, "legend": null}}},
     {"data": {"name": "ecc"}, "transform": [{"filter": {"field": "s", "oneOf": ["DSANet", "LSTNet"]}}],
      "mark": {"type": "point", "filled": false, "size": 150, "strokeWidth": 2, "opacity": 1, "clip": true},
      "encoding": {
       "x": {"field": "h", "type": "quantitative", "scale": {"domain": [0, 22.75], "nice": false, "zero": false}, "axis": {"orient": "bottom", "values": [0,2,4,6,8,10,12,14,16,18,20,22], "format": "d", "labelFontSize": 18, "labelPadding": 10, "labelFlush": false, "labelOverlap": false, "title": "Hour (h)", "titleFontSize": 19, "titlePadding": 9, "domain": false, "tickSize": -6, "grid": true, "gridColor": "#b0b0b0", "gridDash": [3, 3], "gridWidth": 0.8, "zindex": 0}},
       "y": {"field": "v", "type": "quantitative", "scale": {"domain": [0.3, 20.8], "nice": false, "zero": false}, "axis": {"orient": "left", "values": [0, 10, 20], "format": "d", "labelFontSize": 18, "labelPadding": 10, "labelFlush": false, "labelOverlap": false, "domain": false, "tickSize": -6, "grid": true, "gridColor": "#b0b0b0", "gridDash": [3, 3], "gridWidth": 0.8, "zindex": 0, "title": "LR", "titleFontSize": 20, "titleAngle": 270, "titleAlign": "left", "titleBaseline": "alphabetic", "titleX": -38, "titleY": 85}},
       "color": {"field": "s", "type": "nominal", "legend": {"title": null}},
       "shape": {"field": "s", "type": "nominal", "legend": {"title": null}}}},
     {"data": {"name": "ecc"}, "transform": [{"filter": {"field": "s", "oneOf": ["DeepTCN"]}}],
      "mark": {"type": "point", "filled": false, "size": 150, "strokeWidth": 2, "opacity": 1, "clip": true},
      "encoding": {
       "x": {"field": "h", "type": "quantitative", "scale": {"domain": [0, 22.75], "nice": false, "zero": false}, "axis": {"orient": "bottom", "values": [0.5,1,1.5,2.5,3,3.5,4.5,5,5.5,6.5,7,7.5,8.5,9,9.5,10.5,11,11.5,12.5,13,13.5,14.5,15,15.5,16.5,17,17.5,18.5,19,19.5,20.5,21,21.5,22.5], "labels": false, "domain": false, "grid": false, "tickSize": -3, "title": "(a)", "titleFont": "Liberation Serif", "titleFontSize": 23, "titleAngle": 0, "titleAlign": "left", "titleBaseline": "alphabetic", "titleX": 29, "titleY": 93}},
       "y": {"field": "v", "type": "quantitative", "scale": {"domain": [0.3, 20.8], "nice": false, "zero": false}, "axis": {"orient": "left", "values": [2,4,6,8,12,14,16,18], "labels": false, "title": null, "domain": false, "grid": false, "tickSize": -3}},
       "color": {"field": "s", "type": "nominal", "legend": {"title": null}},
       "shape": {"field": "s", "type": "nominal", "legend": {"title": null}}}},
     {"data": {"name": "ecc"}, "transform": [{"filter": {"field": "s", "oneOf": ["DeepAR", "FFNN"]}}],
      "mark": {"type": "point", "filled": false, "size": 150, "strokeWidth": 2, "opacity": 1, "clip": true},
      "encoding": {
       "x": {"field": "h", "type": "quantitative", "scale": {"domain": [0, 22.75], "nice": false, "zero": false}, "axis": {"orient": "top", "values": [0,2,4,6,8,10,12,14,16,18,20,22], "labels": false, "domain": false, "grid": false, "tickSize": -6, "title": "Electricity", "titleFont": "Liberation Mono", "titleFontSize": 26, "titleAngle": 0, "titleAlign": "left", "titleBaseline": "alphabetic", "titleX": 70, "titleY": 216}},
       "y": {"field": "v", "type": "quantitative", "scale": {"domain": [0.3, 20.8], "nice": false, "zero": false}, "axis": {"orient": "right", "values": [0, 10, 20], "labels": false, "title": null, "domain": false, "grid": false, "tickSize": -6}},
       "color": {"field": "s", "type": "nominal", "legend": {"title": null}},
       "shape": {"field": "s", "type": "nominal", "legend": {"title": null}}}},
     {"data": {"name": "ecc"}, "transform": [{"filter": {"field": "s", "oneOf": ["Naïve-1", "Naïve-2"]}}],
      "mark": {"type": "point", "filled": false, "size": 150, "strokeWidth": 2, "opacity": 1, "clip": true},
      "encoding": {
       "x": {"field": "h", "type": "quantitative", "scale": {"domain": [0, 22.75], "nice": false, "zero": false}, "axis": {"orient": "top", "values": [0.5,1,1.5,2.5,3,3.5,4.5,5,5.5,6.5,7,7.5,8.5,9,9.5,10.5,11,11.5,12.5,13,13.5,14.5,15,15.5,16.5,17,17.5,18.5,19,19.5,20.5,21,21.5,22.5], "labels": false, "domain": false, "grid": false, "tickSize": -3, "title": "dataset", "titleFont": "Liberation Serif", "titleFontSize": 23, "titleAngle": 0, "titleAlign": "left", "titleBaseline": "alphabetic", "titleX": 248, "titleY": 216}},
       "y": {"field": "v", "type": "quantitative", "scale": {"domain": [0.3, 20.8], "nice": false, "zero": false}, "axis": {"orient": "right", "values": [2,4,6,8,12,14,16,18], "labels": false, "title": null, "domain": false, "grid": false, "tickSize": -3}},
       "color": {"field": "s", "type": "nominal", "legend": {"title": null}},
       "shape": {"field": "s", "type": "nominal", "legend": {"title": null}}}}
    ],
    "resolve": {"axis": {"x": "independent", "y": "independent"}}
   }
  ]
 },
 {
  "spacing": 2,
  "vconcat": [
   {
    "width": 391, "height": 123,
    "layer": [
     {"data": {"name": "ouc_t"}, "mark": {"type": "rule", "color": "black", "strokeWidth": 1.5},
      "encoding": {
       "y": {"field": "v", "type": "quantitative", "scale": {"domain": [-0.15, 20.85], "nice": false, "zero": false}, "axis": {"orient": "left", "labels": false, "ticks": false, "domain": false, "grid": false, "title": "UC", "titleFontSize": 14, "titleAngle": 270, "titleAlign": "left", "titleBaseline": "alphabetic", "titleX": -35, "titleY": 58}},
       "strokeDash": {"field": "lvl", "type": "nominal", "scale": {"domain": ["5 %", "1 %"], "range": [[5.5, 2.5], [1, 0]]}, "legend": null}}},
     {"data": {"name": "ouc"}, "transform": [{"filter": {"field": "s", "oneOf": ["DSANet", "LSTNet"]}}],
      "mark": {"type": "point", "filled": false, "size": 150, "strokeWidth": 2, "opacity": 1, "clip": true},
      "encoding": {
       "x": {"field": "h", "type": "quantitative", "scale": {"domain": [0, 22.6], "nice": false, "zero": false}, "axis": {"orient": "bottom", "values": [0,2,4,6,8,10,12,14,16,18,20,22], "labels": false, "title": null, "domain": false, "tickSize": -6, "grid": true, "gridColor": "#b0b0b0", "gridDash": [3, 3], "gridWidth": 0.8, "zindex": 0}},
       "y": {"field": "v", "type": "quantitative", "scale": {"domain": [-0.15, 20.85], "nice": false, "zero": false}, "axis": {"orient": "left", "values": [0, 10, 20], "format": "d", "labelFontSize": 18, "labelPadding": 10, "labelFlush": false, "labelOverlap": false, "domain": false, "tickSize": -6, "grid": true, "gridColor": "#b0b0b0", "gridDash": [3, 3], "gridWidth": 0.8, "zindex": 0, "title": "LR", "titleFontSize": 20, "titleAngle": 270, "titleAlign": "left", "titleBaseline": "alphabetic", "titleX": -38, "titleY": 85}},
       "color": {"field": "s", "type": "nominal", "legend": {"title": null}},
       "shape": {"field": "s", "type": "nominal", "legend": {"title": null}}}},
     {"data": {"name": "ouc"}, "transform": [{"filter": {"field": "s", "oneOf": ["DeepTCN"]}}],
      "mark": {"type": "point", "filled": false, "size": 150, "strokeWidth": 2, "opacity": 1, "clip": true},
      "encoding": {
       "x": {"field": "h", "type": "quantitative", "scale": {"domain": [0, 22.6], "nice": false, "zero": false}, "axis": {"orient": "bottom", "values": [0.5,1,1.5,2.5,3,3.5,4.5,5,5.5,6.5,7,7.5,8.5,9,9.5,10.5,11,11.5,12.5,13,13.5,14.5,15,15.5,16.5,17,17.5,18.5,19,19.5,20.5,21,21.5,22.5], "labels": false, "title": null, "domain": false, "grid": false, "tickSize": -3}},
       "y": {"field": "v", "type": "quantitative", "scale": {"domain": [-0.15, 20.85], "nice": false, "zero": false}, "axis": {"orient": "left", "values": [2,4,6,8,12,14,16,18], "labels": false, "title": null, "domain": false, "grid": false, "tickSize": -3}},
       "color": {"field": "s", "type": "nominal", "legend": {"title": null}},
       "shape": {"field": "s", "type": "nominal", "legend": {"title": null}}}},
     {"data": {"name": "ouc"}, "transform": [{"filter": {"field": "s", "oneOf": ["DeepAR", "FFNN"]}}],
      "mark": {"type": "point", "filled": false, "size": 150, "strokeWidth": 2, "opacity": 1, "clip": true},
      "encoding": {
       "x": {"field": "h", "type": "quantitative", "scale": {"domain": [0, 22.6], "nice": false, "zero": false}, "axis": {"orient": "top", "values": [0,2,4,6,8,10,12,14,16,18,20,22], "labels": false, "title": null, "domain": false, "grid": false, "tickSize": -6}},
       "y": {"field": "v", "type": "quantitative", "scale": {"domain": [-0.15, 20.85], "nice": false, "zero": false}, "axis": {"orient": "right", "values": [0, 10, 20], "labels": false, "title": null, "domain": false, "grid": false, "tickSize": -6}},
       "color": {"field": "s", "type": "nominal", "legend": {"title": null}},
       "shape": {"field": "s", "type": "nominal", "legend": {"title": null}}}},
     {"data": {"name": "ouc"}, "transform": [{"filter": {"field": "s", "oneOf": ["Naïve-1", "Naïve-2"]}}],
      "mark": {"type": "point", "filled": false, "size": 150, "strokeWidth": 2, "opacity": 1, "clip": true},
      "encoding": {
       "x": {"field": "h", "type": "quantitative", "scale": {"domain": [0, 22.6], "nice": false, "zero": false}, "axis": {"orient": "top", "values": [0.5,1,1.5,2.5,3,3.5,4.5,5,5.5,6.5,7,7.5,8.5,9,9.5,10.5,11,11.5,12.5,13,13.5,14.5,15,15.5,16.5,17,17.5,18.5,19,19.5,20.5,21,21.5,22.5], "labels": false, "title": null, "domain": false, "grid": false, "tickSize": -3}},
       "y": {"field": "v", "type": "quantitative", "scale": {"domain": [-0.15, 20.85], "nice": false, "zero": false}, "axis": {"orient": "right", "values": [2,4,6,8,12,14,16,18], "labels": false, "title": null, "domain": false, "grid": false, "tickSize": -3}},
       "color": {"field": "s", "type": "nominal", "legend": {"title": null}},
       "shape": {"field": "s", "type": "nominal", "legend": {"title": null}}}}
    ],
    "resolve": {"axis": {"x": "independent", "y": "independent"}}
   },
   {
    "width": 391, "height": 123,
    "layer": [
     {"data": {"name": "occ_t"}, "mark": {"type": "rule", "color": "black", "strokeWidth": 1.5},
      "encoding": {
       "y": {"field": "v", "type": "quantitative", "scale": {"domain": [-0.15, 20.85], "nice": false, "zero": false}, "axis": {"orient": "left", "labels": false, "ticks": false, "domain": false, "grid": false, "title": "CC", "titleFontSize": 14, "titleAngle": 270, "titleAlign": "left", "titleBaseline": "alphabetic", "titleX": -35, "titleY": 58}},
       "strokeDash": {"field": "lvl", "type": "nominal", "scale": {"domain": ["5 %", "1 %"], "range": [[5.5, 2.5], [1, 0]]}, "legend": null}}},
     {"data": {"name": "occ"}, "transform": [{"filter": {"field": "s", "oneOf": ["DSANet", "LSTNet"]}}],
      "mark": {"type": "point", "filled": false, "size": 150, "strokeWidth": 2, "opacity": 1, "clip": true},
      "encoding": {
       "x": {"field": "h", "type": "quantitative", "scale": {"domain": [0, 22.6], "nice": false, "zero": false}, "axis": {"orient": "bottom", "values": [0,2,4,6,8,10,12,14,16,18,20,22], "format": "d", "labelFontSize": 18, "labelPadding": 10, "labelFlush": false, "labelOverlap": false, "title": "Hour (h)", "titleFontSize": 19, "titlePadding": 9, "domain": false, "tickSize": -6, "grid": true, "gridColor": "#b0b0b0", "gridDash": [3, 3], "gridWidth": 0.8, "zindex": 0}},
       "y": {"field": "v", "type": "quantitative", "scale": {"domain": [-0.15, 20.85], "nice": false, "zero": false}, "axis": {"orient": "left", "values": [0, 10, 20], "format": "d", "labelFontSize": 18, "labelPadding": 10, "labelFlush": false, "labelOverlap": false, "domain": false, "tickSize": -6, "grid": true, "gridColor": "#b0b0b0", "gridDash": [3, 3], "gridWidth": 0.8, "zindex": 0, "title": "LR", "titleFontSize": 20, "titleAngle": 270, "titleAlign": "left", "titleBaseline": "alphabetic", "titleX": -38, "titleY": 85}},
       "color": {"field": "s", "type": "nominal", "legend": {"title": null}},
       "shape": {"field": "s", "type": "nominal", "legend": {"title": null}}}},
     {"data": {"name": "occ"}, "transform": [{"filter": {"field": "s", "oneOf": ["DeepTCN"]}}],
      "mark": {"type": "point", "filled": false, "size": 150, "strokeWidth": 2, "opacity": 1, "clip": true},
      "encoding": {
       "x": {"field": "h", "type": "quantitative", "scale": {"domain": [0, 22.6], "nice": false, "zero": false}, "axis": {"orient": "bottom", "values": [0.5,1,1.5,2.5,3,3.5,4.5,5,5.5,6.5,7,7.5,8.5,9,9.5,10.5,11,11.5,12.5,13,13.5,14.5,15,15.5,16.5,17,17.5,18.5,19,19.5,20.5,21,21.5,22.5], "labels": false, "domain": false, "grid": false, "tickSize": -3, "title": "(b)", "titleFont": "Liberation Serif", "titleFontSize": 23, "titleAngle": 0, "titleAlign": "left", "titleBaseline": "alphabetic", "titleX": -13, "titleY": 93}},
       "y": {"field": "v", "type": "quantitative", "scale": {"domain": [-0.15, 20.85], "nice": false, "zero": false}, "axis": {"orient": "left", "values": [2,4,6,8,12,14,16,18], "labels": false, "title": null, "domain": false, "grid": false, "tickSize": -3}},
       "color": {"field": "s", "type": "nominal", "legend": {"title": null}},
       "shape": {"field": "s", "type": "nominal", "legend": {"title": null}}}},
     {"data": {"name": "occ"}, "transform": [{"filter": {"field": "s", "oneOf": ["DeepAR", "FFNN"]}}],
      "mark": {"type": "point", "filled": false, "size": 150, "strokeWidth": 2, "opacity": 1, "clip": true},
      "encoding": {
       "x": {"field": "h", "type": "quantitative", "scale": {"domain": [0, 22.6], "nice": false, "zero": false}, "axis": {"orient": "top", "values": [0,2,4,6,8,10,12,14,16,18,20,22], "labels": false, "domain": false, "grid": false, "tickSize": -6, "title": "Open power system", "titleFont": "Liberation Mono", "titleFontSize": 26, "titleAngle": 0, "titleAlign": "left", "titleBaseline": "alphabetic", "titleX": 26, "titleY": 216}},
       "y": {"field": "v", "type": "quantitative", "scale": {"domain": [-0.15, 20.85], "nice": false, "zero": false}, "axis": {"orient": "right", "values": [0, 10, 20], "labels": false, "title": null, "domain": false, "grid": false, "tickSize": -6}},
       "color": {"field": "s", "type": "nominal", "legend": {"title": null}},
       "shape": {"field": "s", "type": "nominal", "legend": {"title": null}}}},
     {"data": {"name": "occ"}, "transform": [{"filter": {"field": "s", "oneOf": ["Naïve-1", "Naïve-2"]}}],
      "mark": {"type": "point", "filled": false, "size": 150, "strokeWidth": 2, "opacity": 1, "clip": true},
      "encoding": {
       "x": {"field": "h", "type": "quantitative", "scale": {"domain": [0, 22.6], "nice": false, "zero": false}, "axis": {"orient": "top", "values": [0.5,1,1.5,2.5,3,3.5,4.5,5,5.5,6.5,7,7.5,8.5,9,9.5,10.5,11,11.5,12.5,13,13.5,14.5,15,15.5,16.5,17,17.5,18.5,19,19.5,20.5,21,21.5,22.5], "labels": false, "domain": false, "grid": false, "tickSize": -3, "title": "dataset", "titleFont": "Liberation Serif", "titleFontSize": 23, "titleAngle": 0, "titleAlign": "left", "titleBaseline": "alphabetic", "titleX": 297, "titleY": 216}},
       "y": {"field": "v", "type": "quantitative", "scale": {"domain": [-0.15, 20.85], "nice": false, "zero": false}, "axis": {"orient": "right", "values": [2,4,6,8,12,14,16,18], "labels": false, "title": null, "domain": false, "grid": false, "tickSize": -3}},
       "color": {"field": "s", "type": "nominal", "legend": {"title": null}},
       "shape": {"field": "s", "type": "nominal", "legend": {"title": null}}}}
    ],
    "resolve": {"axis": {"x": "independent", "y": "independent"}}
   }
  ]
 }
],
"spacing": 13,
"resolve": {"scale": {"color": "shared", "shape": "shared"}, "legend": {"color": "shared", "shape": "shared"}}
}
